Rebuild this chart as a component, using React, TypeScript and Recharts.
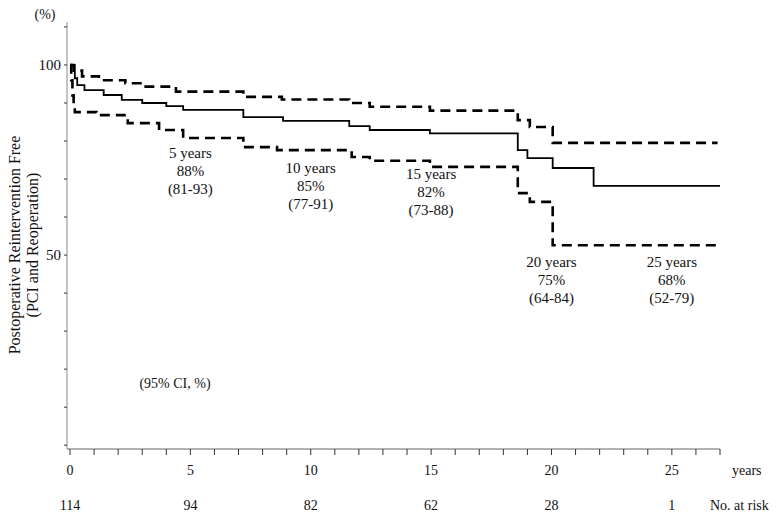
import { ComposedChart, Line, XAxis, YAxis, ReferenceDot } from 'recharts';

// Kaplan-Meier estimate (solid) with 95% CI bands (dashed), years vs % free
const solidYears = [0, 0.2, 0.3, 0.6, 1.4, 2.15, 3.0, 4.0, 4.7, 7.2, 8.85, 11.6, 12.45, 14.95, 18.6, 19.0, 20.05, 21.75, 27];
const solidPct = [100, 96.5, 94.7, 93.4, 92.1, 90.8, 90.0, 89.2, 88.2, 86.3, 85.3, 83.9, 82.9, 82.0, 77.6, 75.5, 72.9, 68.2, 68.2];

const upperYears = [0, 0.15, 0.5, 1.2, 2.3, 3.0, 4.4, 7.2, 8.8, 11.6, 12.45, 14.95, 18.6, 19.1, 20.05, 26.9];
const upperPct = [100, 98.5, 97, 96, 95.2, 94.3, 93.0, 91.6, 90.9, 90.0, 89.0, 88.0, 85.5, 83.7, 79.5, 79.5];

const lowerYears = [0, 0.05, 0.1, 0.15, 0.2, 1.1, 2.4, 3.7, 4.7, 7.2, 8.6, 11.7, 12.45, 14.95, 18.6, 19.1, 20.05, 26.9];
const lowerPct = [100, 96, 92, 89, 87.6, 86.8, 84.7, 82.9, 80.8, 78.4, 77.6, 75.8, 74.8, 73.2, 66.3, 64.0, 52.6, 52.6];

const milestoneYears = [5, 10, 15, 20, 25];
const milestoneEst = ['88%', '85%', '82%', '75%', '68%'];
const milestoneCI = ['(81-93)', '(77-91)', '(73-88)', '(64-84)', '(52-79)'];

const riskYears = [0, 5, 10, 15, 20, 25];
const atRisk = [114, 94, 82, 62, 28, 1];

const xTicks = Array.from({ length: 28 }, (_, i) => i);
const yTicks = [0, 10, 20, 30, 40, 50, 60, 70, 80, 90, 100, 110];

// where the milestone text blocks sit (first line, in % units)
const labelTop = [76.8, 72.9, 71.3, 48.2, 48.2];

const FONT = '"Liberation Serif", "Times New Roman", serif';

const zip = (xs: number[], ys: number[]) => xs.map((year, i) => ({ year, pct: ys[i] }));
const solidData = zip(solidYears, solidPct);
const upperData = zip(upperYears, upperPct);
const lowerData = zip(lowerYears, lowerPct);

const XTick = ({ x, y, payload }: any) => {
  const v = payload.value;
  if (v % 5 !== 0) return null;
  const idx = riskYears.indexOf(v);
  return (
    <g fontFamily={FONT} fontSize={14} fill="#111">
      <text x={x} y={y + 18} textAnchor="middle">{v}</text>
      {idx >= 0 && (
        <text x={x} y={y + 53} textAnchor="middle">{atRisk[idx]}</text>
      )}
    </g>
  );
};

const YTick = ({ x, y, payload }: any) => {
  const v = payload.value;
  if (v !== 50 && v !== 100) return null;
  return (
    <text x={x} y={y + 5} textAnchor="end" fontFamily={FONT} fontSize={15} fill="#111">
      {v}
    </text>
  );
};

const Milestone = (i: number) => (props: any) => {
  const { cx, cy } = props;
  return (
    <g fontFamily={FONT} fontSize={15} fill="#111" textAnchor="middle">
      <text x={cx} y={cy + 5}>{milestoneYears[i]} years</text>
      <text x={cx} y={cy + 23}>{milestoneEst[i]}</text>
      <text x={cx} y={cy + 41}>{milestoneCI[i]}</text>
    </g>
  );
};

export default function App() {
  return (
    <div style={{ position: 'absolute', left: 0, top: 0, width: 777, height: 521, background: '#fff' }}>
      <ComposedChart width={777} height={521} margin={{ top: 22, right: 57, bottom: 42, left: 27 }}>
        <XAxis
          dataKey="year"
          type="number"
          domain={[-0.125, 27]}
          allowDataOverflow
          ticks={xTicks}
          interval={0}
          tick={<XTick />}
          tickSize={6}
          tickMargin={2}
          height={30}
          axisLine={{ stroke: '#666' }}
          tickLine={{ stroke: '#333' }}
        />
        <XAxis
          xAxisId="top"
          orientation="top"
          type="number"
          domain={[-0.125, 27]}
          tick={false}
          tickLine={false}
          height={0}
          axisLine={{ stroke: '#aaa' }}
        />
        <YAxis
          dataKey="pct"
          type="number"
          domain={[-1, 111.3]}
          allowDataOverflow
          ticks={yTicks}
          interval={0}
          tick={<YTick />}
          tickSize={3}
          tickMargin={3}
          width={40}
          axisLine={{ stroke: '#888' }}
          tickLine={{ stroke: '#333' }}
        />
        <YAxis
          yAxisId="right"
          orientation="right"
          type="number"
          domain={[-1, 111.3]}
          tick={false}
          tickLine={false}
          width={0}
          axisLine={{ stroke: '#777' }}
        />
        <Line data={upperData} dataKey="pct" type="stepAfter" stroke="#000" strokeWidth={2.6} strokeDasharray="10 6" dot={false} isAnimationActive={false} />
        <Line data={lowerData} dataKey="pct" type="stepAfter" stroke="#000" strokeWidth={2.6} strokeDasharray="10 6" dot={false} isAnimationActive={false} />
        <Line data={solidData} dataKey="pct" type="stepAfter" stroke="#000" strokeWidth={1.8} dot={false} isAnimationActive={false} />
        {milestoneYears.map((yr, i) => (
          <ReferenceDot key={yr} x={yr} y={labelTop[i]} r={1} shape={Milestone(i)} />
        ))}
      </ComposedChart>
      <svg width={777} height={521} style={{ position: 'absolute', left: 0, top: 0, pointerEvents: 'none' }}>
        <g fontFamily={FONT} fill="#111">
          <text x={45} y={19} fontSize={14} textAnchor="middle">(%)</text>
          <text transform="translate(20,245) rotate(-90)" fontSize={16} textAnchor="middle">
            Postoperative Reintervention Free
          </text>
          <text transform="translate(38,245) rotate(-90)" fontSize={16} textAnchor="middle">
            (PCI and Reoperation)
          </text>
          <text x={175} y={388} fontSize={14} textAnchor="middle">(95% CI, %)</text>
          <text x={732} y={475} fontSize={14}>years</text>
          <text x={710} y={510} fontSize={14}>No. at risk</text>
        </g>
      </svg>
    </div>
  );
}
